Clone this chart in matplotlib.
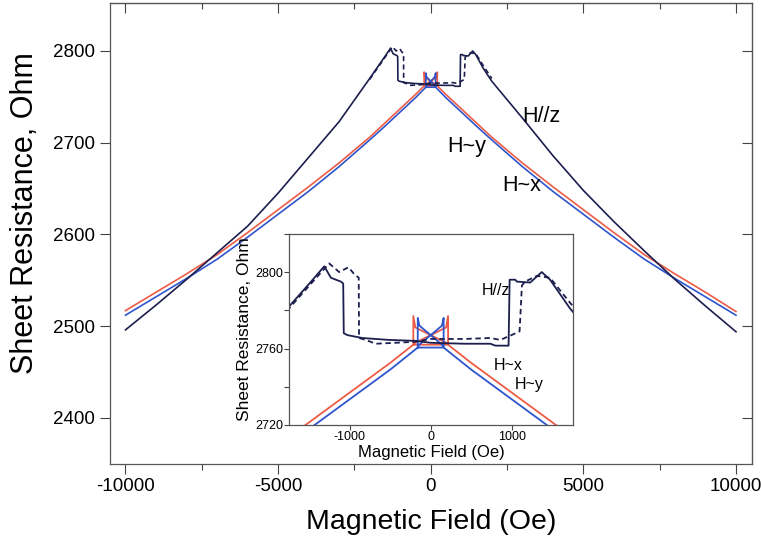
import numpy as np
import matplotlib
matplotlib.use('Agg')
import matplotlib.pyplot as plt
from matplotlib.ticker import MultipleLocator

plt.rcParams['font.family'] = ['Liberation Sans', 'DejaVu Sans']
plt.rcParams['axes.unicode_minus'] = False

# H parallel z, solid sweep
hz_solid_x = [-10000, -9000, -8000, -7000, -6000, -5000, -4000, -3000, -2000,
              -1730, -1500, -1316, -1234, -1111, -1082, -1075, -1029, -845,
              -517, -189, 0, 410, 738, 800, 963, 976, 1045, 1066, 1230, 1373,
              1476, 1722, 2000, 3000, 4000, 5000, 6000, 7000, 8000, 9000, 10000]
hz_solid_y = [2496, 2523, 2551, 2580, 2609, 2645, 2684, 2723, 2770,
              2783, 2794, 2803, 2797, 2795, 2794, 2768, 2767, 2765.5,
              2764.5, 2764, 2763, 2762.5, 2762.5, 2761.5, 2761.5, 2796, 2796,
              2795, 2794.5, 2800, 2796, 2781, 2767, 2727, 2686, 2648, 2614,
              2582, 2551, 2522, 2494]

# H parallel z, dashed sweep (only differs near the centre)
hz_dash_x = [-2000, -1730, -1500, -1255, -1132, -1017, -947, -890, -886, -804,
             -680, -434, -200, 0, 410, 738, 861, 1025, 1099, 1128, 1168, 1312,
             1476, 1722, 2000]
hz_dash_y = [2769, 2782, 2793, 2804.5, 2800, 2802.5, 2799, 2797, 2765.5,
             2764.5, 2762.5, 2763, 2763.5, 2765, 2765, 2765.5, 2764.5, 2767.5,
             2769, 2793, 2795, 2798, 2797, 2784, 2770]

# H ~ y (red)
hy_x = [-10000, -9000, -8000, -7000, -6000, -5000, -4000, -3000, -2000, -1500,
        -1000, -500, -215, 215, 500, 1000, 1500, 2000, 3000, 4000, 5000, 6000,
        7000, 8000, 9000, 10000]
hy_y = [2517, 2537, 2557, 2578, 2602, 2627, 2652, 2678, 2706, 2721.5, 2737,
        2752.5, 2762, 2762, 2752.5, 2737, 2721.5, 2706, 2678, 2652, 2627, 2602,
        2578, 2557, 2537, 2516]
hy_loop_x = [-215, -215, -190, 190, 215, 215, 190, -190, -215]
hy_loop_y = [2762, 2777, 2771, 2763, 2762, 2777, 2771, 2763, 2762]

# H ~ x (blue)
hx_x = [-10000, -9000, -8000, -7000, -6000, -5000, -4000, -3000, -2000, -1500,
        -1000, -500, -160, 160, 500, 1000, 1500, 2000, 3000, 4000, 5000, 6000,
        7000, 8000, 9000, 10000]
hx_y = [2512, 2532, 2552, 2573, 2597, 2622, 2647, 2674, 2703, 2718, 2733.5,
        2749, 2760.5, 2760.5, 2749, 2733.5, 2718, 2703, 2674, 2647, 2622, 2597,
        2573, 2552, 2532, 2512]
hx_loop_x = [-160, -160, -140, 140, 160, 160, 140, -140, -160]
hx_loop_y = [2760.5, 2776, 2772, 2762, 2760.5, 2776, 2772, 2762, 2760.5]

navy = '#1c1f4e'
blue = '#2f55cc'
red = '#ee5b45'


def draw_curves(ax, lw):
    ax.plot(hy_x, hy_y, color=red, lw=lw)
    ax.plot(hy_loop_x, hy_loop_y, color=red, lw=lw)
    ax.plot(hx_x, hx_y, color=blue, lw=lw)
    ax.plot(hx_loop_x, hx_loop_y, color=blue, lw=lw)
    ax.plot(hz_dash_x, hz_dash_y, color=navy, lw=lw, ls=(0, (3, 2)))
    ax.plot(hz_solid_x, hz_solid_y, color=navy, lw=lw)


fig = plt.figure(figsize=(7.61, 5.40), dpi=100)
ax = fig.add_axes([0.144, 0.141, 0.844, 0.853])
draw_curves(ax, 1.2)
ax.set_xlim(-10520, 10520)
ax.set_ylim(2350, 2852)
ax.xaxis.set_major_locator(MultipleLocator(5000))
ax.xaxis.set_minor_locator(MultipleLocator(2500))
ax.yaxis.set_major_locator(MultipleLocator(100))
ax.tick_params(which='major', direction='out', length=7, width=0.8,
               labelsize=13.5, color='#444444')
ax.tick_params(which='minor', direction='out', length=4, width=0.8,
               color='#444444')
for s in ax.spines.values():
    s.set_color('#555555')
    s.set_linewidth(0.9)

top = ax.secondary_xaxis('top')
top.xaxis.set_major_locator(MultipleLocator(5000))
top.xaxis.set_minor_locator(MultipleLocator(2500))
top.tick_params(which='major', direction='in', length=7, width=0.8,
                labeltop=False, color='#444444')
top.tick_params(which='minor', direction='in', length=4, width=0.8,
                color='#444444')
right = ax.secondary_yaxis('right')
right.yaxis.set_major_locator(MultipleLocator(100))
right.tick_params(direction='in', length=7, width=0.8, labelright=False,
                  color='#444444')

ax.set_xlabel('Magnetic Field (Oe)', fontsize=20.5, labelpad=10)
ax.set_ylabel('Sheet Resistance, Ohm', fontsize=22)
ax.yaxis.set_label_coords(-0.108, 0.545)

ax.text(3633, 2728.7, 'H//z', fontsize=15.5, ha='center', va='center')
ax.text(1178, 2696, 'H~y', fontsize=15.5, ha='center', va='center')
ax.text(2978, 2653, 'H~x', fontsize=15.5, ha='center', va='center')

# inset: low field region
ins = fig.add_axes([0.380, 0.213, 0.373, 0.354])
draw_curves(ins, 1.3)
ins.set_xlim(-1750, 1760)
ins.set_ylim(2720, 2820)
ins.xaxis.set_major_locator(MultipleLocator(1000))
ins.yaxis.set_major_locator(MultipleLocator(40))
ins.yaxis.set_minor_locator(MultipleLocator(20))
ins.tick_params(which='both', direction='out', length=3.5, width=0.8,
                labelsize=9, pad=1, color='#444444')
for s in ins.spines.values():
    s.set_color('#555555')
    s.set_linewidth(0.9)
ins.set_xlabel('Magnetic Field (Oe)', fontsize=12, labelpad=1)
ins.set_ylabel('Sheet Resistance, Ohm', fontsize=12.5, labelpad=2)
ins.text(812, 2790.5, 'H//z', fontsize=11.5, ha='center', va='center')
ins.text(960, 2751, 'H~x', fontsize=11.5, ha='center', va='center')
ins.text(1218, 2741, 'H~y', fontsize=11.5, ha='center', va='center')

fig.savefig('out.png', dpi=100)
